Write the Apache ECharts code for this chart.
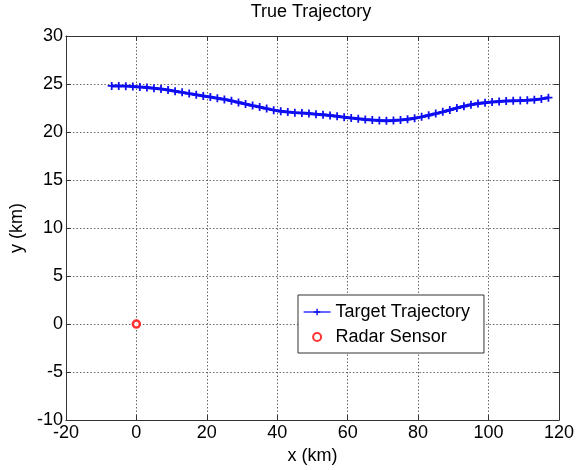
<!DOCTYPE html>
<html>
<head>
<meta charset="utf-8">
<script src="https://cdn.jsdelivr.net/npm/echarts@6/dist/echarts.min.js"></script>
<style>
  html, body { margin: 0; padding: 0; background: #fff; }
  #chart { width: 581px; height: 470px; }
</style>
</head>
<body>
<div id="chart"></div>
<script>
// target track, x (km)
var trackX = [-7, -5, -3, -1, 1, 3, 5, 7, 9, 11, 13, 15, 17, 19, 21, 23, 25, 27, 29, 31,
    33, 35, 37, 39, 41, 43, 45, 47, 49, 51, 53, 55, 57, 59, 61, 63, 65, 67, 69, 71,
    73, 75, 77, 79, 81, 83, 85, 87, 89, 91, 93, 95, 97, 99, 101, 103, 105, 107, 109, 111,
    113, 115, 117];
// target track, y (km)
var trackY = [24.8, 24.8, 24.78, 24.75, 24.7, 24.63, 24.55, 24.48, 24.38, 24.25, 24.13, 24.0, 23.88, 23.76, 23.64, 23.52, 23.4, 23.25, 23.08, 22.92,
    22.75, 22.6, 22.44, 22.28, 22.16, 22.08, 22.02, 21.97, 21.92, 21.86, 21.8, 21.72, 21.64, 21.55, 21.46, 21.38, 21.3, 21.24, 21.2, 21.18,
    21.2, 21.25, 21.33, 21.44, 21.58, 21.74, 21.92, 22.1, 22.3, 22.5, 22.68, 22.84, 22.97, 23.06, 23.13, 23.18, 23.22, 23.25, 23.28, 23.32,
    23.37, 23.45, 23.58];
// radar position
var radarX = [0];
var radarY = [0];

var seriesNames = ['Target Trajectory', 'Radar Sensor'];
var titleText = 'True Trajectory';

var font = 'Liberation Sans, Arial, sans-serif';
// plus-shaped marker, arms 2 units thick in a 9x9 box
var plusPath = 'path://M3.5,0h2v3.5h3.5v2h-3.5v3.5h-2v-3.5h-3.5v-2h3.5z';

function zip(xs, ys) {
    var out = [];
    for (var i = 0; i < xs.length; i++) out.push([xs[i], ys[i]]);
    return out;
}

var chart = echarts.init(document.getElementById('chart'));

var gridLine = {show: true, lineStyle: {color: '#666', type: [1.5, 2], width: 1}};
var boxLine = {show: true, onZero: false, lineStyle: {color: '#333', width: 1}};
var tick = {show: true, inside: true, length: 5, lineStyle: {color: '#333'}};
var tickLabel = {color: '#000', fontSize: 18, fontFamily: font};

var option = {
    backgroundColor: '#fff',
    animation: false,
    title: {
        text: titleText,
        left: 311,
        textAlign: 'center',
        top: 3,
        padding: 0,
        textStyle: {color: '#000', fontSize: 18, fontWeight: 'normal', fontFamily: font}
    },
    grid: {left: 63, right: 22, top: 36, bottom: 48, containLabel: false},
    legend: {
        orient: 'vertical',
        left: 298,
        top: 295,
        padding: [8, 14, 7, 5],
        itemGap: 7,
        itemWidth: 27,
        itemHeight: 8,
        backgroundColor: '#fff',
        borderColor: '#333',
        borderWidth: 1,
        lineStyle: {width: 1.2},
        textStyle: {color: '#000', fontSize: 18, fontFamily: font, lineHeight: 18},
        data: seriesNames
    },
    xAxis: [{
        type: 'value',
        min: -20, max: 120, interval: 20,
        name: 'x (km)',
        nameLocation: 'middle',
        nameGap: 24,
        nameTextStyle: {color: '#000', fontSize: 18, fontFamily: font},
        axisLine: boxLine,
        axisTick: tick,
        axisLabel: Object.assign({margin: 4}, tickLabel),
        splitLine: gridLine
    }, {
        type: 'value',
        position: 'top',
        min: -20, max: 120, interval: 20,
        axisLine: boxLine,
        axisTick: tick,
        axisLabel: {show: false},
        splitLine: {show: false}
    }],
    yAxis: [{
        type: 'value',
        min: -10, max: 30, interval: 5,
        name: 'y (km)',
        nameLocation: 'middle',
        nameGap: 31,
        nameTextStyle: {color: '#000', fontSize: 18, fontFamily: font},
        axisLine: boxLine,
        axisTick: tick,
        axisLabel: Object.assign({margin: 3}, tickLabel),
        splitLine: gridLine
    }, {
        type: 'value',
        position: 'right',
        min: -10, max: 30, interval: 5,
        axisLine: boxLine,
        axisTick: tick,
        axisLabel: {show: false},
        splitLine: {show: false}
    }],
    series: [{
        name: seriesNames[0],
        type: 'line',
        data: zip(trackX, trackY),
        symbol: plusPath,
        symbolSize: 8,
        showAllSymbol: true,
        lineStyle: {color: '#0000ff', width: 3},
        itemStyle: {color: '#1010ee'},
        z: 3
    }, {
        name: seriesNames[1],
        type: 'scatter',
        data: zip(radarX, radarY),
        symbol: 'circle',
        symbolSize: 7,
        itemStyle: {color: '#fff', borderColor: '#ff0000', borderWidth: 2.5},
        z: 4
    }]
};

chart.setOption(option);
</script>
</body>
</html>
